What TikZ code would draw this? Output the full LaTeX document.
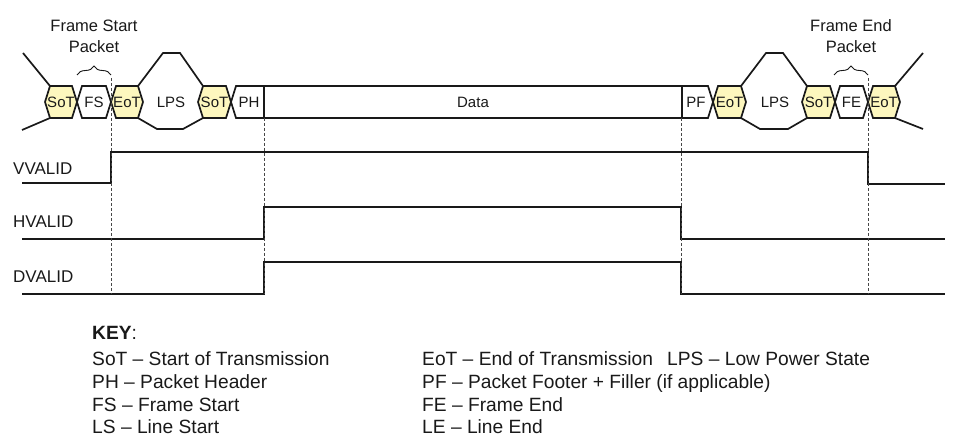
\documentclass[tikz,border=0pt]{standalone}
\usepackage{fontspec}
\setmainfont{Liberation Sans}
\usetikzlibrary{decorations.pathreplacing}
\definecolor{hexyellow}{RGB}{253,247,190}
\definecolor{ink}{RGB}{25,25,25}
\newcommand\mipihex[3]{% style, left point x, right point x
  \path[#1] (#2,102) -- (#2+5,86) -- (#3-5,86) -- (#3,102) -- (#3-5,118) -- (#2+5,118) -- cycle;}
\begin{document}
\begin{tikzpicture}[x=1pt,y=-1pt,
  bus/.style={draw=ink,line width=1.7pt,line join=miter},
  hexy/.style={bus,fill=hexyellow},
  hexw/.style={bus,fill=white},
  sig/.style={draw=ink,line width=2pt},
  guide/.style={draw=ink!80,line width=0.8pt,dash pattern=on 3pt off 2pt},
  buslbl/.style={font=\fontsize{15}{18}\selectfont,text=ink,inner sep=0pt},
  siglbl/.style={font=\fontsize{17}{20}\selectfont,text=ink,inner sep=0pt,anchor=base west},
  anno/.style={font=\fontsize{16.5}{20}\selectfont,text=ink,inner sep=0pt,anchor=base},
  keytxt/.style={font=\fontsize{19.2}{23}\selectfont,text=ink,inner sep=0pt,anchor=base west},
  brc/.style={draw=ink,line width=0.9pt,decorate,decoration={brace,amplitude=9pt}}
]
\useasboundingbox (0,0) rectangle (974,443);

% --- bus row ---
\draw[bus] (23,53) -- (50,86);
\draw[bus] (22,130) -- (50,118);
\mipihex{hexy}{45}{77}
\mipihex{hexw}{77}{111}
\mipihex{hexy}{111}{143}
\draw[bus] (138,86) -- (163,53) -- (180,53) -- (203,86);
\draw[bus] (138,118) -- (157,129) -- (183,129) -- (203,118);
\mipihex{hexy}{198}{231}
\path[hexw] (231,102) -- (236,86) -- (264,86) -- (264,118) -- (236,118) -- cycle;
\path[hexw] (264,86) rectangle (682,118);
\path[hexw] (682,86) -- (708,86) -- (713,102) -- (708,118) -- (682,118) -- cycle;
\mipihex{hexy}{713}{746}
\draw[bus] (741,86) -- (766,53) -- (783,53) -- (807,86);
\draw[bus] (741,118) -- (760,129) -- (788,129) -- (807,118);
\mipihex{hexy}{802}{835}
\mipihex{hexw}{835}{868}
\mipihex{hexy}{868}{900}
\draw[bus] (895,86) -- (923,53);
\draw[bus] (895,118) -- (923,129);

\node[buslbl] (sot1) at (61,102) {SoT};
\node[buslbl] (fs)   at (94,102) {FS};
\node[buslbl] (eot1) at (127,102) {EoT};
\node[buslbl] (lps1) at (171,102) {LPS};
\node[buslbl] (sot2) at (214.5,102) {SoT};
\node[buslbl] (ph)   at (249,102) {PH};
\node[buslbl] (data) at (473,102) {Data};
\node[buslbl] (pf)   at (696,102) {PF};
\node[buslbl] (eot2) at (729.5,102) {EoT};
\node[buslbl] (lps2) at (775,102) {LPS};
\node[buslbl] (sot3) at (818.5,102) {SoT};
\node[buslbl] (fe)   at (851.5,102) {FE};
\node[buslbl] (eot3) at (884,102) {EoT};

% --- annotations ---
\node[anno] (fsp1) at (94,32) {Frame Start};
\node[anno] (fsp2) at (94,52.5) {Packet};
\node[anno] (fep1) at (851,32) {Frame End};
\node[anno] (fep2) at (851,52.5) {Packet};
\coordinate (b1l) at (77,75); \coordinate (b1r) at (111,75);
\coordinate (b2l) at (834,75); \coordinate (b2r) at (868,75);
\draw[brc] (b1l) -- (b1r);
\draw[brc] (b2l) -- (b2r);

% --- signals ---
\node[siglbl] (vv) at (13,175) {VVALID};
\node[siglbl] (hv) at (13,228) {HVALID};
\node[siglbl] (dv) at (13,283) {DVALID};
\draw[sig] (22,183) -- (111,183) -- (111,152) -- (868,152) -- (868,184) -- (945,184);
\draw[sig] (22,239) -- (264,239) -- (264,207) -- (681,207) -- (681,239) -- (945,239);
\draw[sig] (22,294) -- (264,294) -- (264,262) -- (681,262) -- (681,294) -- (945,294);

% --- guides ---
\draw[guide] (111,78) -- (111,294);
\draw[guide] (264,118) -- (264,294);
\draw[guide] (681,118) -- (681,294);
\draw[guide] (868,78) -- (868,294);

% --- key ---
\node[keytxt] (key) at (92,340) {\textbf{KEY}:};
\node[keytxt] (k1) at (92,365) {SoT – Start of Transmission};
\node[keytxt] (k2) at (92,388) {PH – Packet Header};
\node[keytxt] (k3) at (92,411) {FS – Frame Start};
\node[keytxt] (k4) at (92,433) {LS – Line Start};
\node[keytxt] (k5) at (422,365) {EoT – End of Transmission};
\node[keytxt] (k6) at (667,365) {LPS – Low Power State};
\node[keytxt] (k7) at (422,388) {PF – Packet Footer + Filler (if applicable)};
\node[keytxt] (k8) at (422,411) {FE – Frame End};
\node[keytxt] (k9) at (422,433) {LE – Line End};
\end{tikzpicture}
\end{document}
